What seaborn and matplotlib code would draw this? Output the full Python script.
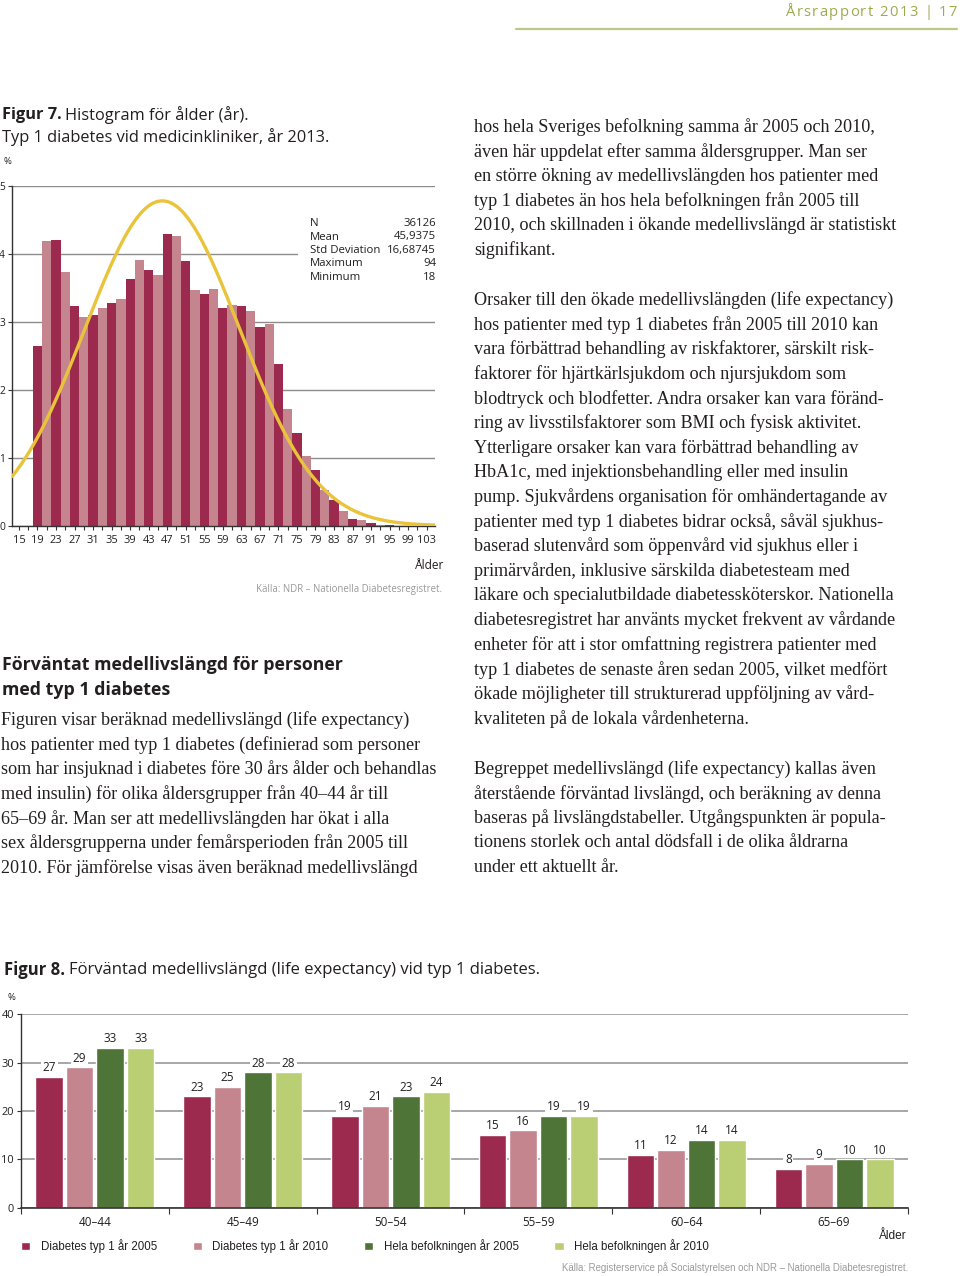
import numpy as np
import pandas as pd
import matplotlib
matplotlib.use("Agg")
import matplotlib.pyplot as plt
import seaborn as sns
from matplotlib.patches import Rectangle

# ---------------- data ----------------
hist_age_centers = [19, 21, 23, 25, 27, 29, 31, 33, 35, 37, 39, 41, 43, 45, 47, 49, 51, 53, 55,
                    57, 59, 61, 63, 65, 67, 69, 71, 73, 75, 77, 79, 81, 83, 85, 87, 89, 91, 93, 95]
hist_pct = [2.65, 4.19, 4.21, 3.74, 3.23, 3.07, 3.10, 3.21, 3.28, 3.33, 3.63, 3.91, 3.76, 3.69,
            4.29, 4.27, 3.90, 3.47, 3.41, 3.49, 3.20, 3.25, 3.23, 3.16, 2.92, 2.97, 2.38, 1.72,
            1.36, 1.03, 0.82, 0.53, 0.38, 0.22, 0.10, 0.08, 0.04, 0.015, 0.005]
hist_xticks = [15, 19, 23, 27, 31, 35, 39, 43, 47, 51, 55, 59, 63, 67, 71, 75, 79, 83, 87, 91, 95, 99, 103]
stat_labels = ["N", "Mean", "Std Deviation", "Maximum", "Minimum"]
stat_values = ["36126", "45,9375", "16,68745", "94", "18"]
stat_mean = 45.9375
stat_sd = 16.68745

age_groups = ["40–44", "45–49", "50–54", "55–59", "60–64", "65–69"]
series_names = ["Diabetes typ 1 år 2005", "Diabetes typ 1 år 2010",
                "Hela befolkningen år 2005", "Hela befolkningen år 2010"]
dm_2005 = [27, 23, 19, 15, 11, 8]
dm_2010 = [29, 25, 21, 16, 12, 9]
pop_2005 = [33, 28, 23, 19, 14, 10]
pop_2010 = [33, 28, 24, 19, 14, 10]

# ---------------- style ----------------
sns.set_style("white")
SANS = ["Open Sans", "DejaVu Sans"]
NARROW = ["Liberation Sans Narrow", "Liberation Sans", "DejaVu Sans"]
SERIF = ["Liberation Serif", "DejaVu Serif"]
plt.rcParams["font.family"] = SANS
TXT = "#231f20"
DARK = "#9b2a4e"
LIGHT = "#c4858f"
GDARK = "#4e7437"
GLIGHT = "#bacf73"
YELLOW = "#e9c43a"
GRID = "#8c8c8c"
HEADGREEN = "#9aad4c"

W, H = 960, 1276
fig = plt.figure(figsize=(W / 100, H / 100), dpi=100)
fig.patch.set_facecolor("white")


def fx(x):
    return x / W


def fy(y):
    return 1 - y / H


renderer = fig.canvas.get_renderer()

# ---------------- header ----------------
head = "Årsrapport 2013 | 17"
track = 1.4
hsize = 10.6
positions = []
for i in range(len(head)):
    t = fig.text(0, 0, head[:i] + "x", fontsize=hsize, family=SANS)
    tx = fig.text(0, 0, "x", fontsize=hsize, family=SANS)
    w = t.get_window_extent(renderer).width - tx.get_window_extent(renderer).width
    t.remove(); tx.remove()
    positions.append(w + i * track)
tl = fig.text(0, 0, head, fontsize=hsize, family=SANS)
full_w = tl.get_window_extent(renderer).width + (len(head) - 1) * track
tl.remove()
x0 = 957 - full_w
for ch, p in zip(head, positions):
    if ch != " ":
        fig.text(fx(x0 + p), fy(12), ch, fontsize=hsize, family=SANS, color=HEADGREEN,
                 ha="left", va="center")
fig.add_artist(plt.Line2D([fx(516), fx(957)], [fy(29), fy(29)], color="#bcc886", lw=1.6,
                          transform=fig.transFigure))


def caption(x, y, bold, rest, size):
    t = fig.text(fx(x), fy(y), bold, fontsize=size, fontweight="bold", color=TXT,
                 ha="left", va="center", family=SANS)
    bb = t.get_window_extent(renderer)
    fig.text(fx(x) + (bb.width + size * 0.3) / W, fy(y), rest, fontsize=size, color=TXT,
             ha="left", va="center", family=SANS)


# ---------------- Figure 7 ----------------
caption(2, 115, "Figur 7.", "Histogram för ålder (år).", 11.8)
fig.text(fx(2), fy(137), "Typ 1 diabetes vid medicinkliniker, år 2013.", fontsize=11.8,
         color=TXT, ha="left", va="center")
fig.text(fx(3), fy(162), "%", fontsize=6.8, color=TXT, ha="left", va="center")

ax1 = fig.add_axes([fx(12), fy(525.7), (435 - 12) / W, (525.7 - 186) / H])
shade = ["a" if i % 2 == 0 else "b" for i in range(len(hist_pct))]
hdf = pd.DataFrame({"age": hist_age_centers, "pct": hist_pct, "shade": shade})
edges = [c - 1 for c in hist_age_centers] + [hist_age_centers[-1] + 1]
sns.histplot(data=hdf, x="age", weights="pct", hue="shade", bins=edges,
             palette={"a": DARK, "b": LIGHT}, hue_order=["a", "b"], alpha=1,
             edgecolor="none", linewidth=0, legend=False, ax=ax1, zorder=2)
xs = np.linspace(13.5, 104.8, 400)
ys = 100 * 2 * np.exp(-0.5 * ((xs - stat_mean) / stat_sd) ** 2) / (stat_sd * np.sqrt(2 * np.pi))
sns.lineplot(x=xs, y=ys, color=YELLOW, lw=2.4, ax=ax1, zorder=3)
ax1.set_xlim(13.5, 104.8)
ax1.set_ylim(0, 5)
ax1.set_yticks([0, 1, 2, 3, 4, 5])
ax1.set_xticks(hist_xticks)
ax1.set_xticks([t + 2 for t in hist_xticks[:-1]], minor=True)
ax1.yaxis.grid(True, color=GRID, lw=1.0)
ax1.set_axisbelow(True)
for s in ["top", "right"]:
    ax1.spines[s].set_visible(False)
for s in ["left", "bottom"]:
    ax1.spines[s].set_color("#333333")
    ax1.spines[s].set_linewidth(1.0)
ax1.tick_params(axis="x", which="both", length=3, width=0.8, color="#333333", direction="out",
                labelsize=7.9, labelcolor=TXT, pad=4, bottom=True)
ax1.tick_params(axis="y", length=3, width=0.8, color="#333333", direction="out",
                labelsize=7.4, labelcolor=TXT, pad=2, left=True)
ax1.set_xlabel("")
ax1.set_ylabel("")

# stats block (mask gridline behind)
fig.add_artist(Rectangle((fx(298), fy(286)), (438 - 298) / W, (286 - 214) / H,
                         transform=fig.transFigure, facecolor="white", edgecolor="none", zorder=1))
for i, (lab, val) in enumerate(zip(stat_labels, stat_values)):
    yy = 223.5 + i * 13.5
    fig.text(fx(310), fy(yy), lab, fontsize=8.2, color=TXT, ha="left", va="center", zorder=2)
    fig.text(fx(436), fy(yy), val, fontsize=8.2, color=TXT, ha="right", va="center", zorder=2)

fig.text(fx(444), fy(566), "Ålder", fontsize=8.6, color=TXT, ha="right", va="center")
fig.text(fx(442), fy(589), "Källa: NDR – Nationella Diabetesregistret.", fontsize=6.9,
         color="#9a9a9a", ha="right", va="center")

# ---------------- text blocks ----------------
LS = 24.65
BODY = 13.1
fig.text(fx(2), fy(665), "Förväntat medellivslängd för personer", fontsize=12.75,
         fontweight="bold", color=TXT, ha="left", va="center")
fig.text(fx(2), fy(690), "med typ 1 diabetes", fontsize=12.75, fontweight="bold", color=TXT,
         ha="left", va="center")
left_lines = [
    "Figuren visar beräknad medellivslängd (life expectancy)",
    "hos patienter med typ 1 diabetes (definierad som personer",
    "som har insjuknad i diabetes före 30 års ålder och behandlas",
    "med insulin) för olika åldersgrupper från 40–44 år till",
    "65–69 år. Man ser att medellivslängden har ökat i alla",
    "sex åldersgrupperna under femårsperioden från 2005 till",
    "2010. För jämförelse visas även beräknad medellivslängd",
]
for i, ln in enumerate(left_lines):
    fig.text(fx(1), fy(720 + i * LS), ln, fontsize=BODY, family=SERIF, color=TXT,
             ha="left", va="center")

para1 = [
    "hos hela Sveriges befolkning samma år 2005 och 2010,",
    "även här uppdelat efter samma åldersgrupper. Man ser",
    "en större ökning av medellivslängden hos patienter med",
    "typ 1 diabetes än hos hela befolkningen från 2005 till",
    "2010, och skillnaden i ökande medellivslängd är statistiskt",
    "signifikant.",
]
para2 = [
    "Orsaker till den ökade medellivslängden (life expectancy)",
    "hos patienter med typ 1 diabetes från 2005 till 2010 kan",
    "vara förbättrad behandling av riskfaktorer, särskilt risk-",
    "faktorer för hjärtkärlsjukdom och njursjukdom som",
    "blodtryck och blodfetter. Andra orsaker kan vara föränd-",
    "ring av livsstilsfaktorer som BMI och fysisk aktivitet.",
    "Ytterligare orsaker kan vara förbättrad behandling av",
    "HbA1c, med injektionsbehandling eller med insulin",
    "pump. Sjukvårdens organisation för omhändertagande av",
    "patienter med typ 1 diabetes bidrar också, såväl sjukhus-",
    "baserad slutenvård som öppenvård vid sjukhus eller i",
    "primärvården, inklusive särskilda diabetesteam med",
    "läkare och specialutbildade diabetessköterskor. Nationella",
    "diabetesregistret har använts mycket frekvent av vårdande",
    "enheter för att i stor omfattning registrera patienter med",
    "typ 1 diabetes de senaste åren sedan 2005, vilket medfört",
    "ökade möjligheter till strukturerad uppföljning av vård-",
    "kvaliteten på de lokala vårdenheterna.",
]
para3 = [
    "Begreppet medellivslängd (life expectancy) kallas även",
    "återstående förväntad livslängd, och beräkning av denna",
    "baseras på livslängdstabeller. Utgångspunkten är popula-",
    "tionens storlek och antal dödsfall i de olika åldrarna",
    "under ett aktuellt år.",
]
for start, para in [(127, para1), (300, para2), (769, para3)]:
    for i, ln in enumerate(para):
        fig.text(fx(474), fy(start + i * LS), ln, fontsize=BODY, family=SERIF, color=TXT,
                 ha="left", va="center")

# ---------------- Figure 8 ----------------
caption(4, 970, "Figur 8.", "Förväntad medellivslängd (life expectancy) vid typ 1 diabetes.", 12.0)
fig.text(fx(8), fy(998), "%", fontsize=6.8, color=TXT, ha="left", va="center")

ax2 = fig.add_axes([fx(21), fy(1207.7), (908 - 21) / W, (1207.7 - 1014.3) / H])
bdf = pd.DataFrame({
    "group": age_groups * 4,
    "series": sum([[s] * len(age_groups) for s in series_names], []),
    "value": dm_2005 + dm_2010 + pop_2005 + pop_2010,
})
sns.barplot(data=bdf, x="group", y="value", hue="series", order=age_groups,
            hue_order=series_names, palette=[DARK, LIGHT, GDARK, GLIGHT], saturation=1,
            width=0.825, gap=0.1, ax=ax2, zorder=2, errorbar=None)
for cont in ax2.containers:
    ax2.bar_label(cont, fmt="%d", padding=2, fontsize=8.5, color=TXT,
                  bbox=dict(facecolor="white", edgecolor="none", pad=1.2))
ax2.set_ylim(0, 40)
ax2.set_xlim(-0.5, 5.5)
ax2.set_yticks([0, 10, 20, 30, 40])
ax2.set_xticks([-0.5 + i for i in range(7)], minor=True)
ax2.yaxis.grid(True, color="#a0a0a0", lw=1.3)
ax2.set_axisbelow(True)
for s in ["top", "right"]:
    ax2.spines[s].set_visible(False)
ax2.spines["left"].set_color("#333333")
ax2.spines["bottom"].set_color("#333333")
ax2.spines["left"].set_linewidth(1.0)
ax2.spines["bottom"].set_linewidth(1.2)
ax2.tick_params(axis="x", which="major", length=0, labelsize=8.4, labelcolor=TXT, pad=6)
ax2.tick_params(axis="x", which="minor", length=4, width=0.8, color="#333333", direction="out",
                bottom=True)
ax2.tick_params(axis="y", length=3, width=0.8, color="#333333", direction="out",
                labelsize=7.9, labelcolor=TXT, pad=2, left=True)
ax2.set_xlabel("")
ax2.set_ylabel("")
sns.move_legend(ax2, loc="center left", bbox_to_anchor=(fx(21), fy(1246)),
                bbox_transform=fig.transFigure, ncol=4, frameon=False, title=None,
                handlelength=0.8, handleheight=0.8, handletextpad=0.9, columnspacing=3.1,
                borderpad=0, borderaxespad=0, prop={"family": NARROW, "size": 8.3})
for t in ax2.get_legend().get_texts():
    t.set_color(TXT)

fig.text(fx(907), fy(1236), "Ålder", fontsize=8.6, family=NARROW, color=TXT,
         ha="right", va="center")
fig.text(fx(908), fy(1268), "Källa: Registerservice på Socialstyrelsen och NDR – Nationella Diabetesregistret.",
         fontsize=6.9, family=NARROW, color="#9a9a9a", ha="right", va="center")

fig.savefig("out.png", dpi=100, facecolor="white")
